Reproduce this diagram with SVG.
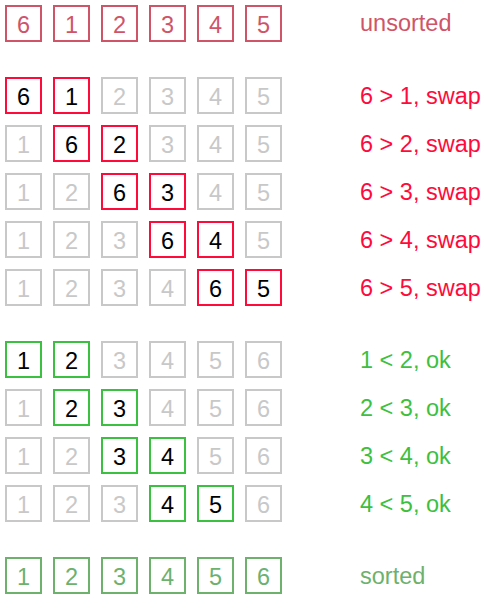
<svg xmlns="http://www.w3.org/2000/svg" width="489" height="605" viewBox="0 0 489 605">
<style>
rect{fill:#fff;stroke-width:2}
text{font-family:"Liberation Sans",Arial,sans-serif;font-size:23.5px}
.n{text-anchor:middle}
.u rect{stroke:#d05468}.u text{fill:#d05468}
.g rect{stroke:#c8c8c8}.g text{fill:#c8c8c8}
.r rect{stroke:#ff0a3a}.r text{fill:#000}
.e rect{stroke:#3cc040}.e text{fill:#000}
.s rect{stroke:#6db16d}.s text{fill:#6db16d}
.lr{fill:#ff0a3a}.lu{fill:#d05468}.le{fill:#3cc040}.ls{fill:#6db16d}
</style>
<rect width="489" height="605" fill="#fff" style="stroke:none"/>
<g id="row-unsorted">
<g class="u"><rect x="6" y="6" width="35" height="35"/><text class="n" x="23.5" y="33">6</text></g>
<g class="u"><rect x="54" y="6" width="35" height="35"/><text class="n" x="71.5" y="33">1</text></g>
<g class="u"><rect x="102" y="6" width="35" height="35"/><text class="n" x="119.5" y="33">2</text></g>
<g class="u"><rect x="150" y="6" width="35" height="35"/><text class="n" x="167.5" y="33">3</text></g>
<g class="u"><rect x="198" y="6" width="35" height="35"/><text class="n" x="215.5" y="33">4</text></g>
<g class="u"><rect x="246" y="6" width="35" height="35"/><text class="n" x="263.5" y="33">5</text></g>
<text class="lu" x="360" y="31">unsorted</text>
</g>
<g id="row-swap1">
<g class="r"><rect x="6" y="78" width="35" height="35"/><text class="n" x="23.5" y="105">6</text></g>
<g class="r"><rect x="54" y="78" width="35" height="35"/><text class="n" x="71.5" y="105">1</text></g>
<g class="g"><rect x="102" y="78" width="35" height="35"/><text class="n" x="119.5" y="105">2</text></g>
<g class="g"><rect x="150" y="78" width="35" height="35"/><text class="n" x="167.5" y="105">3</text></g>
<g class="g"><rect x="198" y="78" width="35" height="35"/><text class="n" x="215.5" y="105">4</text></g>
<g class="g"><rect x="246" y="78" width="35" height="35"/><text class="n" x="263.5" y="105">5</text></g>
<text class="lr" x="360" y="104">6 &gt; 1, swap</text>
</g>
<g id="row-swap2">
<g class="g"><rect x="6" y="126" width="35" height="35"/><text class="n" x="23.5" y="153">1</text></g>
<g class="r"><rect x="54" y="126" width="35" height="35"/><text class="n" x="71.5" y="153">6</text></g>
<g class="r"><rect x="102" y="126" width="35" height="35"/><text class="n" x="119.5" y="153">2</text></g>
<g class="g"><rect x="150" y="126" width="35" height="35"/><text class="n" x="167.5" y="153">3</text></g>
<g class="g"><rect x="198" y="126" width="35" height="35"/><text class="n" x="215.5" y="153">4</text></g>
<g class="g"><rect x="246" y="126" width="35" height="35"/><text class="n" x="263.5" y="153">5</text></g>
<text class="lr" x="360" y="152">6 &gt; 2, swap</text>
</g>
<g id="row-swap3">
<g class="g"><rect x="6" y="174" width="35" height="35"/><text class="n" x="23.5" y="201">1</text></g>
<g class="g"><rect x="54" y="174" width="35" height="35"/><text class="n" x="71.5" y="201">2</text></g>
<g class="r"><rect x="102" y="174" width="35" height="35"/><text class="n" x="119.5" y="201">6</text></g>
<g class="r"><rect x="150" y="174" width="35" height="35"/><text class="n" x="167.5" y="201">3</text></g>
<g class="g"><rect x="198" y="174" width="35" height="35"/><text class="n" x="215.5" y="201">4</text></g>
<g class="g"><rect x="246" y="174" width="35" height="35"/><text class="n" x="263.5" y="201">5</text></g>
<text class="lr" x="360" y="200">6 &gt; 3, swap</text>
</g>
<g id="row-swap4">
<g class="g"><rect x="6" y="222" width="35" height="35"/><text class="n" x="23.5" y="249">1</text></g>
<g class="g"><rect x="54" y="222" width="35" height="35"/><text class="n" x="71.5" y="249">2</text></g>
<g class="g"><rect x="102" y="222" width="35" height="35"/><text class="n" x="119.5" y="249">3</text></g>
<g class="r"><rect x="150" y="222" width="35" height="35"/><text class="n" x="167.5" y="249">6</text></g>
<g class="r"><rect x="198" y="222" width="35" height="35"/><text class="n" x="215.5" y="249">4</text></g>
<g class="g"><rect x="246" y="222" width="35" height="35"/><text class="n" x="263.5" y="249">5</text></g>
<text class="lr" x="360" y="248">6 &gt; 4, swap</text>
</g>
<g id="row-swap5">
<g class="g"><rect x="6" y="270" width="35" height="35"/><text class="n" x="23.5" y="297">1</text></g>
<g class="g"><rect x="54" y="270" width="35" height="35"/><text class="n" x="71.5" y="297">2</text></g>
<g class="g"><rect x="102" y="270" width="35" height="35"/><text class="n" x="119.5" y="297">3</text></g>
<g class="g"><rect x="150" y="270" width="35" height="35"/><text class="n" x="167.5" y="297">4</text></g>
<g class="r"><rect x="198" y="270" width="35" height="35"/><text class="n" x="215.5" y="297">6</text></g>
<g class="r"><rect x="246" y="270" width="35" height="35"/><text class="n" x="263.5" y="297">5</text></g>
<text class="lr" x="360" y="296">6 &gt; 5, swap</text>
</g>
<g id="row-ok1">
<g class="e"><rect x="6" y="342" width="35" height="35"/><text class="n" x="23.5" y="369">1</text></g>
<g class="e"><rect x="54" y="342" width="35" height="35"/><text class="n" x="71.5" y="369">2</text></g>
<g class="g"><rect x="102" y="342" width="35" height="35"/><text class="n" x="119.5" y="369">3</text></g>
<g class="g"><rect x="150" y="342" width="35" height="35"/><text class="n" x="167.5" y="369">4</text></g>
<g class="g"><rect x="198" y="342" width="35" height="35"/><text class="n" x="215.5" y="369">5</text></g>
<g class="g"><rect x="246" y="342" width="35" height="35"/><text class="n" x="263.5" y="369">6</text></g>
<text class="le" x="360" y="368">1 &lt; 2, ok</text>
</g>
<g id="row-ok2">
<g class="g"><rect x="6" y="390" width="35" height="35"/><text class="n" x="23.5" y="417">1</text></g>
<g class="e"><rect x="54" y="390" width="35" height="35"/><text class="n" x="71.5" y="417">2</text></g>
<g class="e"><rect x="102" y="390" width="35" height="35"/><text class="n" x="119.5" y="417">3</text></g>
<g class="g"><rect x="150" y="390" width="35" height="35"/><text class="n" x="167.5" y="417">4</text></g>
<g class="g"><rect x="198" y="390" width="35" height="35"/><text class="n" x="215.5" y="417">5</text></g>
<g class="g"><rect x="246" y="390" width="35" height="35"/><text class="n" x="263.5" y="417">6</text></g>
<text class="le" x="360" y="416">2 &lt; 3, ok</text>
</g>
<g id="row-ok3">
<g class="g"><rect x="6" y="438" width="35" height="35"/><text class="n" x="23.5" y="465">1</text></g>
<g class="g"><rect x="54" y="438" width="35" height="35"/><text class="n" x="71.5" y="465">2</text></g>
<g class="e"><rect x="102" y="438" width="35" height="35"/><text class="n" x="119.5" y="465">3</text></g>
<g class="e"><rect x="150" y="438" width="35" height="35"/><text class="n" x="167.5" y="465">4</text></g>
<g class="g"><rect x="198" y="438" width="35" height="35"/><text class="n" x="215.5" y="465">5</text></g>
<g class="g"><rect x="246" y="438" width="35" height="35"/><text class="n" x="263.5" y="465">6</text></g>
<text class="le" x="360" y="464">3 &lt; 4, ok</text>
</g>
<g id="row-ok4">
<g class="g"><rect x="6" y="486" width="35" height="35"/><text class="n" x="23.5" y="513">1</text></g>
<g class="g"><rect x="54" y="486" width="35" height="35"/><text class="n" x="71.5" y="513">2</text></g>
<g class="g"><rect x="102" y="486" width="35" height="35"/><text class="n" x="119.5" y="513">3</text></g>
<g class="e"><rect x="150" y="486" width="35" height="35"/><text class="n" x="167.5" y="513">4</text></g>
<g class="e"><rect x="198" y="486" width="35" height="35"/><text class="n" x="215.5" y="513">5</text></g>
<g class="g"><rect x="246" y="486" width="35" height="35"/><text class="n" x="263.5" y="513">6</text></g>
<text class="le" x="360" y="512">4 &lt; 5, ok</text>
</g>
<g id="row-sorted">
<g class="s"><rect x="6" y="558" width="35" height="35"/><text class="n" x="23.5" y="585">1</text></g>
<g class="s"><rect x="54" y="558" width="35" height="35"/><text class="n" x="71.5" y="585">2</text></g>
<g class="s"><rect x="102" y="558" width="35" height="35"/><text class="n" x="119.5" y="585">3</text></g>
<g class="s"><rect x="150" y="558" width="35" height="35"/><text class="n" x="167.5" y="585">4</text></g>
<g class="s"><rect x="198" y="558" width="35" height="35"/><text class="n" x="215.5" y="585">5</text></g>
<g class="s"><rect x="246" y="558" width="35" height="35"/><text class="n" x="263.5" y="585">6</text></g>
<text class="ls" x="360" y="584">sorted</text>
</g>
</svg>
